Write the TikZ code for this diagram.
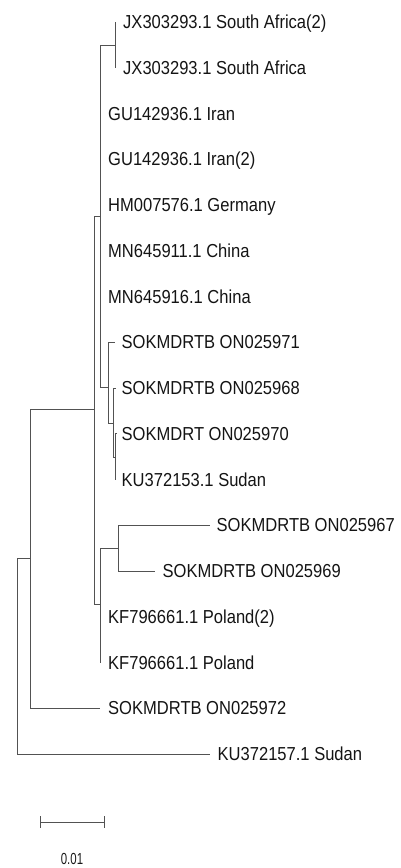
\documentclass[tikz,border=0pt]{standalone}
\usepackage{fontspec}
\setmainfont[FakeStretch=0.88]{Liberation Sans}
\begin{document}
\begin{tikzpicture}[x=1pt,y=-1pt,
  br/.style={draw=black!68, line width=0.9pt},
  lab/.style={anchor=base west, inner sep=0pt, font=\fontsize{18.8}{20}\selectfont, text=black!92, yshift=-6.6pt}]
\useasboundingbox (0,0) rectangle (400,868);
% internal nodes
\coordinate (R) at (17,655.75);
\coordinate (A) at (30.7,558.5);
\coordinate (B) at (94,409.5);
\coordinate (D) at (100.7,216);
\coordinate (E) at (115.5,45);
\coordinate (F) at (108.3,387);
\coordinate (G) at (113,423);
\coordinate (H) at (115.5,457);
\coordinate (C) at (100,604.5);
\coordinate (I) at (118,548);
% leaf tips
\coordinate (t0) at (115.5,22);
\coordinate (t1) at (115.5,67.75);
\coordinate (t2) at (100.7,113.5);
\coordinate (t3) at (100.7,159.25);
\coordinate (t4) at (100.7,205);
\coordinate (t5) at (100.7,250.75);
\coordinate (t6) at (100.7,296.5);
\coordinate (t7) at (115,342.25);
\coordinate (t8) at (115.5,388);
\coordinate (t9) at (117,433.75);
\coordinate (t10) at (115.5,479.5);
\coordinate (t11) at (210,525.25);
\coordinate (t12) at (155,571);
\coordinate (t13) at (100,616.75);
\coordinate (t14) at (100,662.5);
\coordinate (t15) at (100,708.25);
\coordinate (t16) at (210,754);
% branches
\draw[br] (R) |- (A);
\draw[br] (R) |- (t16);
\draw[br] (A) |- (B);
\draw[br] (A) |- (t15);
\draw[br] (B) |- (D);
\draw[br] (B) |- (C);
\draw[br] (D) |- (E);
\draw[br] (D) |- (t2);
\draw[br] (D) |- (t3);
\draw[br] (D) |- (t4);
\draw[br] (D) |- (t5);
\draw[br] (D) |- (t6);
\draw[br] (D) |- (F);
\draw[br] (E) |- (t0);
\draw[br] (E) |- (t1);
\draw[br] (F) |- (t7);
\draw[br] (F) |- (G);
\draw[br] (G) |- (t8);
\draw[br] (G) |- (H);
\draw[br] (H) |- (t9);
\draw[br] (H) |- (t10);
\draw[br] (C) |- (I);
\draw[br] (C) |- (t13);
\draw[br] (C) |- (t14);
\draw[br] (I) |- (t11);
\draw[br] (I) |- (t12);
% labels
\node[lab] (n0) at (123,22) {JX303293.1 South Africa(2)};
\node[lab] (n1) at (123,67.75) {JX303293.1 South Africa};
\node[lab] (n2) at (108,113.5) {GU142936.1 Iran};
\node[lab] (n3) at (108,159.25) {GU142936.1 Iran(2)};
\node[lab] (n4) at (108,205) {HM007576.1 Germany};
\node[lab] (n5) at (108,250.75) {MN645911.1 China};
\node[lab] (n6) at (108,296.5) {MN645916.1 China};
\node[lab] (n7) at (121.5,342.25) {SOKMDRTB ON025971};
\node[lab] (n8) at (121.5,388) {SOKMDRTB ON025968};
\node[lab] (n9) at (121.5,433.75) {SOKMDRT ON025970};
\node[lab] (n10) at (121.5,479.5) {KU372153.1 Sudan};
\node[lab] (n11) at (216.5,525.25) {SOKMDRTB ON025967};
\node[lab] (n12) at (162.5,571) {SOKMDRTB ON025969};
\node[lab] (n13) at (108,616.75) {KF796661.1 Poland(2)};
\node[lab] (n14) at (108,662.5) {KF796661.1 Poland};
\node[lab] (n15) at (108,708.25) {SOKMDRTB ON025972};
\node[lab] (n16) at (217.5,754) {KU372157.1 Sudan};
% scale bar
\coordinate (s1) at (40,822);
\coordinate (s2) at (104.3,822);
\draw[br] (s1) -- (s2);
\draw[br] ([yshift=6pt]s1) -- ([yshift=-6pt]s1);
\draw[br] ([yshift=6pt]s2) -- ([yshift=-6pt]s2);
\node[anchor=base, inner sep=0pt, text=black!90, font=\fontsize{16}{18}\selectfont] (sc) at (72,864.5) {\scalebox{0.81}[1]{0.01}};
\end{tikzpicture}
\end{document}
